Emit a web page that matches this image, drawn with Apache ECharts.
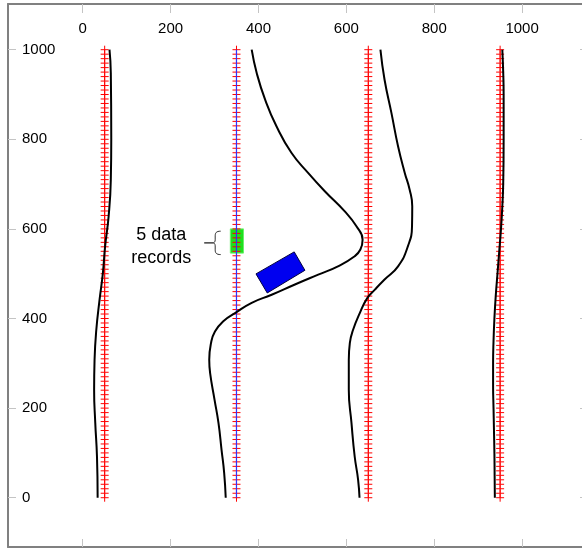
<!DOCTYPE html>
<html>
<head>
<meta charset="utf-8">
<script src="https://cdn.jsdelivr.net/npm/echarts@6/dist/echarts.min.js"></script>
<style>
html,body{margin:0;padding:0;background:#fff;}
#c{width:582px;height:550px;}
</style>
</head>
<body>
<div id="c"></div>
<script>
// ---- data ----
const xTicks = [0, 200, 400, 600, 800, 1000];
const yTicks = [0, 200, 400, 600, 800, 1000];
const traceCenters = [50, 350, 650, 950];
const recordDepths = [];
for (let d = 0; d <= 1000; d += 10) recordDepths.push(d);
const highlightTrace = [[350, 0], [350, 1000]];
const trace1 = [[61,1000],[64,948],[65,800],[64,710],[59,628],[51,561],[46,502],[38.4,442],[31,375],[27,308],[26,241],[28.6,167],[32.5,92],[34,0]];
const trace2 = [[384.6,1000],[396,948],[415,889],[441,829],[475,770],[513,725],[551,684],[596.5,639],[623,606],[637,576],[632,554],[619,539],[581,516.5],[536,498],[483,476],[430,453],[384.6,435],[346.7,412],[320,394],[301,371],[292,345],[288,308],[290,278],[300,219],[309,167],[316,107],[322,55],[325.5,0]];
const trace3 = [[677.6,1000],[687,933],[702.6,859],[717.7,784.5],[733,725],[744,688],[750,650.5],[749.5,606],[740,561],[717.7,516.5],[687,487],[665,464.5],[648,446],[630.6,412],[615.4,375],[608,345.5],[605.6,308],[605.6,241],[611.7,167],[619,92],[626.8,40],[630,0]];
const trace4 = [[955,1000],[957,950],[958,900],[958,800],[957,700],[955,650],[952,600],[948,550],[944,500],[940,450],[937,400],[935,350],[934,300],[934,250],[935,200],[936,150],[937,100],[937.5,50],[938,0]];
const greenRect = [[336, 546], [366, 600]];
const bluePoly = [[394.4,499.6],[481.4,548.7],[505.7,507.6],[420,457]];
const braceAnchor = [[297, 568.8]];
const noteText = '5 data\nrecords';
const noteAnchor = [[178.6, 561.5]];

// ---- chart ----
const chart = echarts.init(document.getElementById('c'), null, {renderer: 'canvas'});
const FONT = 'Liberation Sans, Arial, sans-serif';
const markerData = [];
traceCenters.forEach(function (cx) { recordDepths.forEach(function (d) { markerData.push([cx, d]); }); });

function lineSeries(data) {
  return {
    type: 'line', data: data, showSymbol: false, symbol: 'none', smooth: 0.5,
    lineStyle: {color: '#000', width: 2}, silent: true, z: 5, animation: false
  };
}

const axisLineStyle = {show: true, onZero: false, lineStyle: {color: '#808080', width: 2}};
const plainLabel = function (v) { return String(v); };

chart.setOption({
  animation: false,
  backgroundColor: '#fff',
  grid: {left: 8, top: 4, width: 580, height: 543, outerBoundsMode: 'none', containLabel: false},
  xAxis: [
    {type: 'value', position: 'top', min: -170, max: 1150,
     axisLine: axisLineStyle, splitLine: {show: false},
     axisTick: {show: true, inside: true, length: 9, customValues: xTicks, lineStyle: {color: '#c4c4c4', width: 1}},
     axisLabel: {show: true, inside: true, margin: 17, customValues: xTicks, formatter: plainLabel, color: '#000', fontSize: 15, fontFamily: FONT}},
    {type: 'value', position: 'bottom', min: -170, max: 1150,
     axisLine: axisLineStyle, splitLine: {show: false},
     axisTick: {show: true, inside: true, length: 8, customValues: xTicks, lineStyle: {color: '#c4c4c4', width: 1}},
     axisLabel: {show: false}}
  ],
  yAxis: [
    {type: 'value', position: 'left', min: -110, max: 1102,
     axisLine: axisLineStyle, splitLine: {show: false},
     axisTick: {show: true, inside: true, length: 8, customValues: yTicks, lineStyle: {color: '#c4c4c4', width: 1}},
     axisLabel: {show: true, inside: true, margin: 14, customValues: yTicks, formatter: plainLabel, color: '#000', fontSize: 15, fontFamily: FONT}},
    {type: 'value', position: 'right', min: -110, max: 1102,
     axisLine: axisLineStyle, splitLine: {show: false},
     axisTick: {show: true, inside: true, length: 8, customValues: yTicks, lineStyle: {color: '#c4c4c4', width: 1}},
     axisLabel: {show: false}}
  ],
  series: [
    // green highlight of 5 records
    {type: 'custom', silent: true, z: 1, data: [greenRect[0].concat(greenRect[1])],
     renderItem: function (params, api) {
       const p0 = api.coord([api.value(0), api.value(1)]);
       const p1 = api.coord([api.value(2), api.value(3)]);
       return {type: 'rect', shape: {x: Math.min(p0[0], p1[0]), y: Math.min(p0[1], p1[1]), width: Math.abs(p1[0] - p0[0]), height: Math.abs(p1[1] - p0[1])},
               style: {fill: '#1ee01e', stroke: '#6cf06c', lineWidth: 1}};
     }},
    // red record markers
    {type: 'custom', silent: true, z: 2, data: markerData,
     renderItem: function (params, api) {
       const p = api.coord([api.value(0), api.value(1)]);
       return {type: 'group', children: [
         {type: 'line', shape: {x1: p[0] - 4, y1: p[1], x2: p[0] + 4, y2: p[1]}, style: {stroke: '#ff0000', lineWidth: 1}},
         {type: 'line', shape: {x1: p[0], y1: p[1] - 4, x2: p[0], y2: p[1] + 4}, style: {stroke: '#ff0000', lineWidth: 1}}
       ]};
     }},
    // blue highlighted trace line
    {type: 'line', data: highlightTrace, showSymbol: false, symbol: 'none', silent: true, z: 3,
     lineStyle: {color: '#3030ff', width: 1.2}},
    // blue rotated rectangle
    {type: 'custom', silent: true, z: 4, data: [bluePoly.flat()],
     renderItem: function (params, api) {
       const pts = [];
       for (let i = 0; i < 4; i++) pts.push(api.coord([api.value(2 * i), api.value(2 * i + 1)]));
       return {type: 'polygon', shape: {points: pts}, style: {fill: '#0000f0', stroke: '#000040', lineWidth: 1}};
     }},
    lineSeries(trace1),
    lineSeries(trace2),
    lineSeries(trace3),
    lineSeries(trace4),
    // brace
    {type: 'custom', silent: true, z: 6, data: braceAnchor,
     renderItem: function (params, api) {
       const p = api.coord([api.value(0), api.value(1)]);
       const x = p[0], y = p[1];
       const d = 'M' + (x + 7.5) + ',' + (y - 11.7) +
         ' C' + (x + 3) + ',' + (y - 11.7) + ' ' + (x + 2) + ',' + (y - 10) + ' ' + (x + 2) + ',' + (y - 7) +
         ' L' + (x + 2) + ',' + (y - 3) +
         ' C' + (x + 2) + ',' + (y - 1) + ' ' + (x + 1) + ',' + y + ' ' + x + ',' + y +
         ' C' + (x + 1) + ',' + y + ' ' + (x + 2) + ',' + (y + 1) + ' ' + (x + 2) + ',' + (y + 3) +
         ' L' + (x + 2) + ',' + (y + 7) +
         ' C' + (x + 2) + ',' + (y + 10) + ' ' + (x + 3) + ',' + (y + 11.7) + ' ' + (x + 7.5) + ',' + (y + 11.7);
       return {type: 'group', children: [
         {type: 'path', shape: {pathData: d}, style: {fill: null, stroke: '#333', lineWidth: 1}},
         {type: 'line', shape: {x1: x - 9, y1: y, x2: x, y2: y}, style: {stroke: '#222', lineWidth: 1.3}}
       ]};
     }},
    // annotation text
    {type: 'custom', silent: true, z: 6, data: noteAnchor,
     renderItem: function (params, api) {
       const p = api.coord([api.value(0), api.value(1)]);
       return {type: 'text', x: p[0], y: p[1],
               style: {text: noteText, fill: '#000', font: '18px ' + FONT, align: 'center', verticalAlign: 'middle', lineHeight: 23}};
     }}
  ]
});
</script>
</body>
</html>
